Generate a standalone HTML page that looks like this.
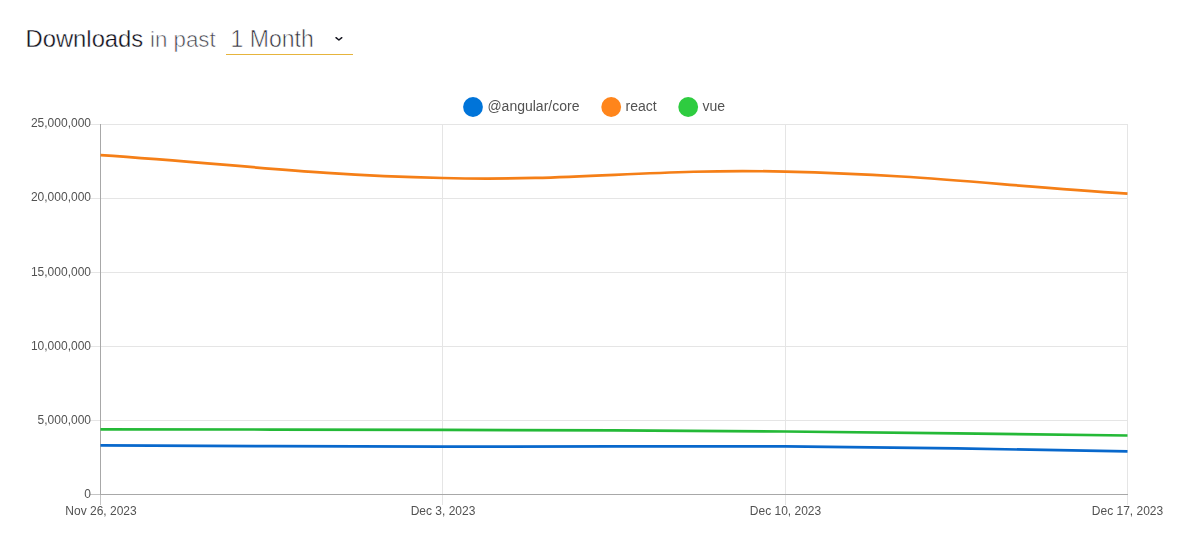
<!DOCTYPE html>
<html lang="en">
<head>
<meta charset="utf-8">
<title>Downloads in past 1 Month</title>
<style>
html,body{margin:0;padding:0;background:#fff;}
body{width:1190px;height:552px;position:relative;overflow:hidden;font-family:"Liberation Sans",Arial,sans-serif;}
.hdr{position:absolute;left:0;top:0;width:1190px;height:70px;}
.hdr span{position:absolute;white-space:nowrap;line-height:1;}
.t1{left:25.5px;top:27.2px;font-size:23.8px;color:#0e0e18;-webkit-text-stroke:0.38px #fff;}
.t2{left:150px;top:28.5px;font-size:22.3px;color:#42424c;-webkit-text-stroke:0.6px #fff;}
.t3{left:230.6px;top:28.2px;font-size:23px;color:#30303a;-webkit-text-stroke:0.6px #fff;}
.ul{position:absolute;left:226px;top:54px;width:127px;height:1px;background:#e6b43c;}
.chev{position:absolute;left:333px;top:34px;}
svg text{font-family:"Liberation Sans",Arial,sans-serif;fill:#525252;}
</style>
</head>
<body>
<div class="hdr">
  <span class="t1">Downloads</span>
  <span class="t2">in past</span>
  <span class="t3">1 Month</span>
  <div class="ul"></div>
  <svg class="chev" width="12" height="10" viewBox="0 0 12 10"><path d="M3.0,3.7 L5.9,6.0 L8.8,3.7" fill="none" stroke="#14141e" stroke-width="1.5" stroke-linecap="round" stroke-linejoin="round"/></svg>
</div>
<svg width="1190" height="552" viewBox="0 0 1190 552" style="position:absolute;left:0;top:0;will-change:transform">
  <!-- legend -->
  <g font-size="14">
    <circle cx="473" cy="107" r="9.9" fill="#0074d9"/>
    <text x="487.4" y="110.8">@angular/core</text>
    <circle cx="611.2" cy="107" r="9.9" fill="#ff851b"/>
    <text x="625.5" y="110.8">react</text>
    <circle cx="688.2" cy="107" r="9.9" fill="#2ecc40"/>
    <text x="702.4" y="110.8">vue</text>
  </g>
  <!-- grid -->
  <g stroke="#e5e5e5" stroke-width="1" shape-rendering="crispEdges">
    <path d="M90,124.5H1128 M90,198.5H1128 M90,272.5H1128 M90,346.5H1128 M90,420.5H1128"/>
    <path d="M442.5,124V505 M785.5,124V505 M1127.5,124V505"/>
  </g>
  <g stroke="#c4c4c4" stroke-width="1" shape-rendering="crispEdges">
    <path d="M100.5,494V505 M90,494.5H101"/>
  </g>
  <g stroke="#a8a8a8" stroke-width="1" shape-rendering="crispEdges">
    <path d="M100.5,124V495 M100,494.5H1128"/>
  </g>
  <!-- y labels -->
  <g font-size="12" text-anchor="end">
    <text x="91" y="127.2">25,000,000</text>
    <text x="91" y="201.2">20,000,000</text>
    <text x="91" y="276.3">15,000,000</text>
    <text x="91" y="350.3">10,000,000</text>
    <text x="91" y="424.3">5,000,000</text>
    <text x="91" y="498.3">0</text>
  </g>
  <g font-size="12" text-anchor="middle">
    <text x="101" y="515">Nov 26, 2023</text>
    <text x="443" y="515">Dec 3, 2023</text>
    <text x="785.5" y="515">Dec 10, 2023</text>
    <text x="1127.5" y="515">Dec 17, 2023</text>
  </g>
  <!-- lines -->
  <g fill="none" stroke-width="2.7" stroke-linecap="butt" stroke-linejoin="miter">
    <path d="M100.50,445.30 C237.38,445.86 305.82,446.48 442.70,446.70 C579.74,446.92 648.27,445.48 785.30,446.40 C922.19,447.32 990.62,449.34 1127.50,451.30" stroke="#0868cc"/>
    <path d="M100.50,155.10 C237.38,164.26 305.68,174.70 442.70,178.00 C579.60,181.30 648.39,168.48 785.30,171.60 C922.31,174.72 990.62,184.80 1127.50,193.60" stroke="#f57f17"/>
    <path d="M100.50,429.30 C237.38,429.54 305.82,429.46 442.70,429.90 C579.74,430.34 648.26,430.38 785.30,431.50 C922.18,432.62 990.62,433.90 1127.50,435.50" stroke="#24b937"/>
  </g>
</svg>
</body>
</html>
